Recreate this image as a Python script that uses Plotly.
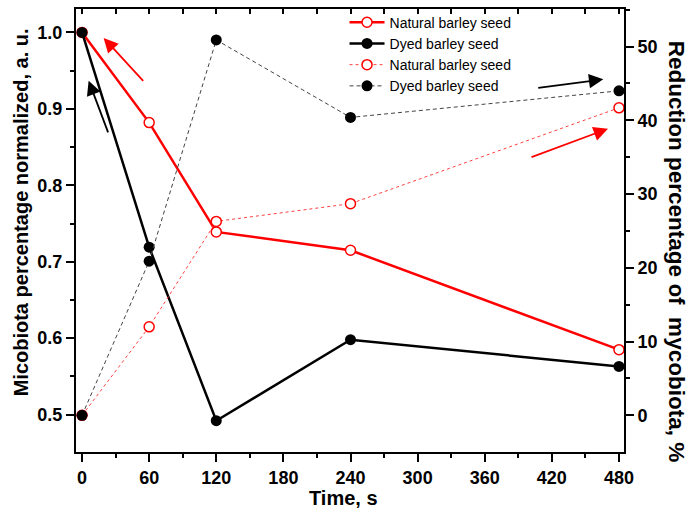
import plotly.graph_objects as go

time_s = [0, 60, 120, 240, 480]
natural_norm = [1.0, 0.882, 0.739, 0.715, 0.585]
dyed_norm = [1.0, 0.719, 0.492, 0.598, 0.563]
natural_red = [0, 12.0, 26.3, 28.7, 41.7]
dyed_red = [0, 20.9, 50.9, 40.4, 44.0]
x_ticks = [0, 60, 120, 180, 240, 300, 360, 420, 480]
y_ticks = [0.5, 0.6, 0.7, 0.8, 0.9, 1.0]
y2_ticks = [0, 10, 20, 30, 40, 50]
labels = ["Natural barley seed", "Dyed barley seed", "Natural barley seed", "Dyed barley seed"]

FONT = "Arial, Liberation Sans, sans-serif"
XR = [-5.4, 484.5]

fig = go.Figure()
fig.add_trace(go.Scatter(x=time_s, y=natural_norm, name=labels[0], mode="lines+markers",
                         line=dict(color="#ff0000", width=2.5),
                         marker=dict(symbol="circle", size=10, color="white",
                                     line=dict(color="#ff0000", width=1.5))))
fig.add_trace(go.Scatter(x=time_s, y=dyed_norm, name=labels[1], mode="lines+markers",
                         line=dict(color="black", width=2.5),
                         marker=dict(symbol="circle", size=11, color="black")))
fig.add_trace(go.Scatter(x=time_s, y=natural_red, name=labels[2], mode="lines+markers",
                         yaxis="y2",
                         line=dict(color="#ff4040", width=1, dash="3px,3px"),
                         marker=dict(symbol="circle", size=10, color="white",
                                     line=dict(color="#ff0000", width=1.5))))
fig.add_trace(go.Scatter(x=time_s, y=dyed_red, name=labels[3], mode="lines+markers",
                         yaxis="y2",
                         line=dict(color="#444444", width=1, dash="4px,3px"),
                         marker=dict(symbol="circle", size=11, color="black")))
# dummy trace so top mirror axis is drawn
fig.add_trace(go.Scatter(x=[None], y=[None], xaxis="x3", yaxis="y", showlegend=False,
                         hoverinfo="skip"))

tickfont = dict(family=FONT, size=18, color="black", weight="bold")

fig.update_layout(
    width=689, height=512,
    margin=dict(l=76, r=65, t=8, b=60),
    paper_bgcolor="white", plot_bgcolor="white",
    showlegend=True,
    legend=dict(x=0.49, y=1.003, xanchor="left", yanchor="top",
                bgcolor="rgba(0,0,0,0)", font=dict(family=FONT, size=14, color="black"),
                tracegroupgap=0, itemwidth=35),
    xaxis=dict(range=XR, tickvals=x_ticks, ticks="outside", ticklen=8, tickwidth=1.5,
               tickcolor="black", showline=True, linecolor="black", linewidth=2,
               showgrid=False, zeroline=False, tickfont=tickfont,
               minor=dict(tick0=0, dtick=30, ticks="outside", ticklen=4, tickwidth=1.5,
                          tickcolor="black", showgrid=False)),
    xaxis3=dict(range=XR, overlaying="x", side="top", tick0=0, dtick=30, ticks="inside",
                ticklen=5, tickwidth=1.5, tickcolor="black", showticklabels=False,
                showline=True, linecolor="black", linewidth=2, showgrid=False, zeroline=False),
    yaxis=dict(range=[0.4511, 1.0306], tickvals=y_ticks, tickformat=".1f", ticks="outside",
               ticklen=8, tickwidth=1.5, tickcolor="black", showline=True, linecolor="black",
               linewidth=2, showgrid=False, zeroline=False, tickfont=tickfont,
               minor=dict(tick0=0.45, dtick=0.05, ticks="outside", ticklen=4, tickwidth=1.5,
                          tickcolor="black", showgrid=False)),
    yaxis2=dict(range=[-4.97, 55.1], tickvals=y2_ticks, overlaying="y", side="right",
                ticks="outside", ticklen=8, tickwidth=1.5, tickcolor="black", showline=True,
                linecolor="black", linewidth=2, showgrid=False, zeroline=False, tickfont=tickfont,
                minor=dict(tick0=0, dtick=5, ticks="outside", ticklen=4, tickwidth=1.5,
                           tickcolor="black", showgrid=False)),
)

titlefont = dict(family=FONT, size=20, color="black", weight="bold")
fig.add_annotation(text="Micobiota percentage normalized, a. u.", xref="paper", yref="paper",
                   x=-0.0998, y=0.5417, xanchor="center", yanchor="middle", textangle=-90,
                   showarrow=False, font=titlefont)
fig.add_annotation(text="Reduction percentage of  mycobiota, %", xref="paper", yref="paper",
                   x=1.0961, y=0.4526, xanchor="center", yanchor="middle", textangle=90,
                   showarrow=False, font=dict(family=FONT, size=22.5, color="black", weight="bold"))
fig.add_annotation(text="Time, s", xref="paper", yref="paper",
                   x=0.4875, y=-0.1044, xanchor="center", yanchor="middle",
                   showarrow=False, font=titlefont)

# arrows (head -> tail in data coords of left axis)
arrows = [
    ((19.3, 0.9927), (55.9, 0.9346), "#ff0000"),
    ((5.9, 0.9369), (23.8, 0.8672), "black"),
    ((466.0, 0.9386), (406.5, 0.9273), "black"),
    ((470.2, 0.874), (400.5, 0.836), "#ff0000"),
]
for (hx, hy), (tx, ty), col in arrows:
    fig.add_annotation(x=hx, y=hy, ax=tx, ay=ty, xref="x", yref="y", axref="x", ayref="y",
                       showarrow=True, arrowhead=2, arrowsize=1.6, arrowwidth=1.8,
                       arrowcolor=col, text="")

fig.write_html("out.html", config={"displayModeBar": False},
               post_script="document.body.style.margin='0';document.body.style.padding='0';")
